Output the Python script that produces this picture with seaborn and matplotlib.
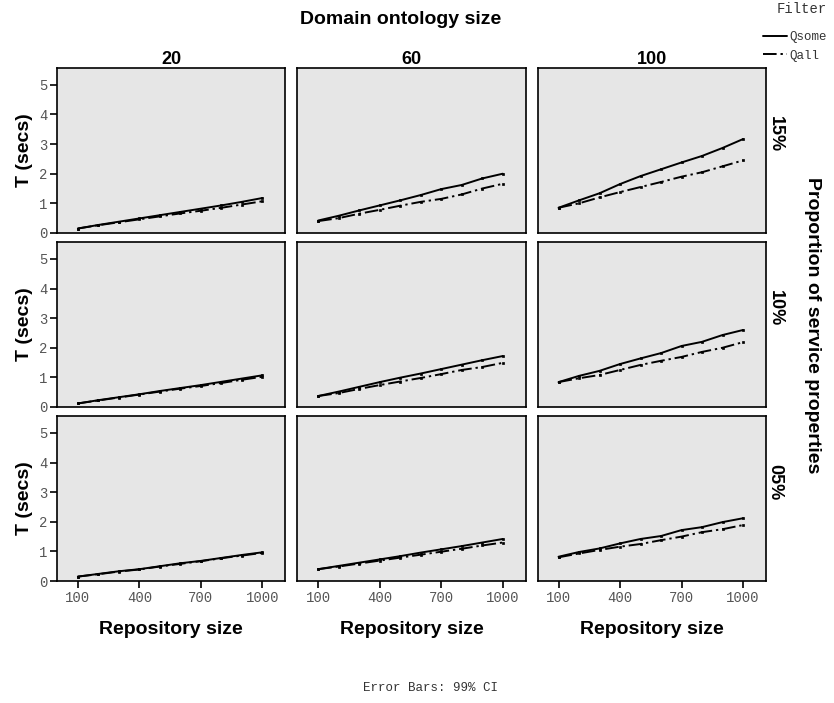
import numpy as np
import pandas as pd
import matplotlib
matplotlib.use('Agg')
import matplotlib.pyplot as plt
from matplotlib.lines import Line2D
import seaborn as sns

sns.set_theme(style='white')
plt.rcParams['font.family'] = ['Liberation Sans', 'DejaVu Sans']
plt.rcParams['text.color'] = 'black'
plt.rcParams['axes.labelcolor'] = 'black'

repo_size = [100, 200, 300, 400, 500, 600, 700, 800, 900, 1000]
onto_sizes = ['20', '60', '100']
proportions = ['15%', '10%', '05%']
filters = ['Qsome', 'Qall']

# T (secs) per panel: rows = proportion, cols = ontology size
qsome_15_20 = [0.15, 0.27, 0.38, 0.49, 0.60, 0.71, 0.82, 0.93, 1.05, 1.18]
qall_15_20 = [0.15, 0.26, 0.36, 0.46, 0.56, 0.66, 0.75, 0.85, 0.96, 1.07]
qsome_15_60 = [0.42, 0.58, 0.76, 0.93, 1.10, 1.28, 1.48, 1.62, 1.84, 2.00]
qall_15_60 = [0.40, 0.50, 0.65, 0.78, 0.92, 1.05, 1.15, 1.30, 1.50, 1.66]
qsome_15_100 = [0.85, 1.10, 1.34, 1.65, 1.92, 2.15, 2.38, 2.60, 2.87, 3.17]
qall_15_100 = [0.85, 1.00, 1.20, 1.38, 1.55, 1.72, 1.90, 2.05, 2.25, 2.45]

qsome_10_20 = [0.12, 0.23, 0.33, 0.43, 0.54, 0.64, 0.74, 0.85, 0.96, 1.07]
qall_10_20 = [0.12, 0.22, 0.32, 0.42, 0.52, 0.62, 0.71, 0.81, 0.92, 1.02]
qsome_10_60 = [0.37, 0.52, 0.68, 0.84, 0.99, 1.13, 1.28, 1.43, 1.58, 1.72]
qall_10_60 = [0.37, 0.47, 0.61, 0.74, 0.86, 0.98, 1.11, 1.25, 1.35, 1.49]
qsome_10_100 = [0.84, 1.05, 1.22, 1.45, 1.64, 1.82, 2.06, 2.20, 2.43, 2.60]
qall_10_100 = [0.84, 0.97, 1.08, 1.25, 1.42, 1.56, 1.69, 1.86, 2.00, 2.19]

qsome_05_20 = [0.15, 0.24, 0.33, 0.40, 0.50, 0.60, 0.68, 0.78, 0.88, 0.97]
qall_05_20 = [0.15, 0.23, 0.32, 0.39, 0.49, 0.58, 0.67, 0.77, 0.86, 0.95]
qsome_05_60 = [0.40, 0.51, 0.62, 0.73, 0.84, 0.96, 1.07, 1.18, 1.30, 1.42]
qall_05_60 = [0.40, 0.49, 0.59, 0.69, 0.79, 0.89, 0.99, 1.09, 1.20, 1.30]
qsome_05_100 = [0.82, 0.98, 1.10, 1.27, 1.42, 1.52, 1.72, 1.82, 1.99, 2.12]
qall_05_100 = [0.80, 0.93, 1.05, 1.16, 1.25, 1.38, 1.50, 1.65, 1.75, 1.89]

panels = {
    ('15%', '20'): (qsome_15_20, qall_15_20),
    ('15%', '60'): (qsome_15_60, qall_15_60),
    ('15%', '100'): (qsome_15_100, qall_15_100),
    ('10%', '20'): (qsome_10_20, qall_10_20),
    ('10%', '60'): (qsome_10_60, qall_10_60),
    ('10%', '100'): (qsome_10_100, qall_10_100),
    ('05%', '20'): (qsome_05_20, qall_05_20),
    ('05%', '60'): (qsome_05_60, qall_05_60),
    ('05%', '100'): (qsome_05_100, qall_05_100),
}

rows = []
for (prop, onto), (qs, qa) in panels.items():
    for f, vals in zip(filters, (qs, qa)):
        for x, v in zip(repo_size, vals):
            rows.append({'prop': prop, 'onto': onto, 'Filter': f, 'size': x, 'T': v})
df = pd.DataFrame(rows)

mono = ['Liberation Mono', 'DejaVu Sans Mono']
dashes = {'Qsome': '', 'Qall': (7, 2, 1.2, 2)}

fig, axes = plt.subplots(3, 3, figsize=(8.34, 7.03), dpi=100)
fig.subplots_adjust(left=0.0683, right=0.9185, top=0.9033, bottom=0.1735,
                    wspace=0.052, hspace=0.055)

for i, prop in enumerate(proportions):
    for j, onto in enumerate(onto_sizes):
        ax = axes[i, j]
        sub = df[(df['prop'] == prop) & (df['onto'] == onto)]
        sns.lineplot(data=sub, x='size', y='T', style='Filter', style_order=filters,
                     dashes=dashes, markers={'Qsome': 's', 'Qall': 's'},
                     markersize=2, markeredgecolor='black', markeredgewidth=0.5,
                     color='black', linewidth=1.4, legend=False, ax=ax)
        ax.set_facecolor('#E6E6E6')
        ax.set_xlim(-2, 1112)
        ax.set_ylim(0, 5.57)
        ax.set_xticks([100, 400, 700, 1000])
        ax.set_yticks([0, 1, 2, 3, 4, 5])
        for s in ax.spines.values():
            s.set_color('black')
            s.set_linewidth(1.2)
        ax.tick_params(direction='out', length=5, width=1.2, color='black',
                       labelcolor='#555555', labelsize=10, bottom=(i == 2), left=(j == 0),
                       labelbottom=(i == 2), labelleft=(j == 0), pad=2)
        for lab in ax.get_xticklabels() + ax.get_yticklabels():
            lab.set_family(mono)
        ax.set_xlabel('')
        ax.set_ylabel('')
        if j == 0:
            ax.set_ylabel('T (secs)', fontsize=14, fontweight='bold', labelpad=4)
        if i == 2:
            ax.set_xlabel('Repository size', fontsize=14, fontweight='bold', labelpad=12)
        if i == 0:
            ax.set_title(onto, fontsize=13, fontweight='bold', pad=3)
        if j == 2:
            ax.text(1.04, 0.6, prop, transform=ax.transAxes, rotation=-90,
                    fontsize=13, fontweight='bold', ha='center', va='center')

fig.text(0.48, 0.972, 'Domain ontology size', fontsize=14, fontweight='bold',
         ha='center', va='center')
fig.text(0.974, 0.537, 'Proportion of service properties', fontsize=14,
         fontweight='bold', rotation=-90, ha='center', va='center')
fig.text(0.516, 0.021, 'Error Bars: 99% CI', fontsize=9, family=mono,
         ha='center', va='center', color='#333333')

handles = [Line2D([], [], color='black', linewidth=1.4),
           Line2D([], [], color='black', linewidth=1.4, dashes=(7, 2, 1.2, 2))]
leg = fig.legend(handles, filters, title='Filter', loc='upper right',
                 bbox_to_anchor=(1.005, 1.013), frameon=False,
                 handlelength=1.9, handletextpad=0.2, labelspacing=0.5,
                 prop={'family': mono, 'size': 9})
leg.get_title().set_family(mono)
leg.get_title().set_fontsize(10)
leg.get_title().set_color('#333333')
for t in leg.get_texts():
    t.set_color('#333333')
leg._legend_box.align = 'right'
leg._legend_box.sep = 11

fig.savefig('out.png', dpi=100)
